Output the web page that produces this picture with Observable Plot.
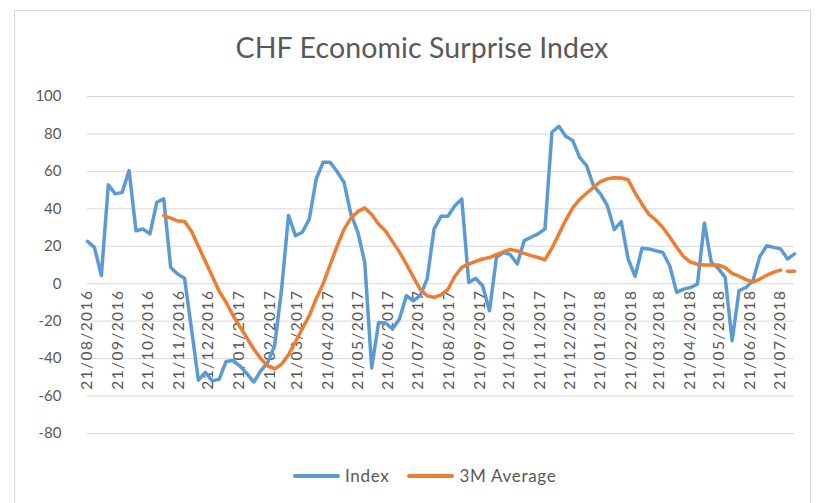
<!DOCTYPE html>
<html><head><meta charset="utf-8">
<script src="https://cdn.jsdelivr.net/npm/d3@7"></script>
<script src="https://cdn.jsdelivr.net/npm/@observablehq/plot@0.6"></script>
<style>
body{margin:0;background:#fff;font-family:Lato,"Open Sans",sans-serif;}
#wrap{position:relative;width:829px;height:503px;overflow:hidden;background:#fff;}
#frame{position:absolute;left:14px;top:10px;width:797px;height:520px;border:1px solid #d9d9d9;box-sizing:border-box;}
#title{position:absolute;top:30px;left:0;width:844px;text-align:center;font-size:28.5px;color:#595959;letter-spacing:0.1px;}
#chart{position:absolute;left:0;top:80px;}
#legend{position:absolute;top:465px;left:293px;display:flex;align-items:center;font-size:17px;letter-spacing:0.7px;color:#595959;white-space:nowrap;}
.sw{display:inline-block;width:47px;height:4px;border-radius:2px;margin-right:5px;}
</style></head>
<body>
<div id="wrap">
  <div id="frame"></div>
  <div id="title">CHF Economic Surprise Index</div>
  <div id="chart"></div>
  <div id="legend"></div>
</div>
<script>
// Weekly observations starting 21/08/2016
const startDate = "2016-08-21";
const indexValues = [22.6,19.4,4.3,52.8,48,48.8,60.4,28.3,29.2,26.6,43.5,45.3,8.7,5.2,2.9,-24,-51.5,-47.4,-51.9,-51,
 -41.5,-41,-44,-48,-52.5,-46.5,-42,-33,-3,36.4,25.7,27.5,34.6,56,64.9,64.9,59.9,54.2,37.3,27.5,
 11.4,-45,-20.7,-21,-24.2,-18.9,-6.4,-9.1,-6.4,2.5,29.2,36,36,41.7,45.3,0.7,2.9,-1.1,-14.4,14.1,
 16.7,15.5,10.5,23,24.8,26.6,29.2,80.9,84.1,78.8,76.5,67.5,63.1,52.4,48,41.7,28.9,33.2,13.2,3.9,
 18.9,18.6,17.6,16.7,9.6,-4.6,-2.9,-2,-0.2,32.4,11.4,8.2,3.4,-30.5,-3.7,-2,1.6,14.6,20.3,19.4,
 18.6,13.2,15.9];
const avgValues = [null,null,null,null,null,null,null,null,null,null,null,36.4,35,33.5,33.3,28,20,12,4,-4,
 -10,-17,-23,-29,-35,-40,-44,-45.5,-43,-38,-31,-24,-17,-8,0,10,20,29,35,38.5,
 40.5,37,31.8,28.2,22.5,17,10.5,3.6,-3,-6.4,-7.3,-6,-3,4,8.7,10.5,12,13.2,14,15.5,
 17,18.3,17.5,16.2,15,14,12.8,19,26.5,34,40.5,45,48.3,51.5,54.5,56,56.6,56.5,55.5,48.5,
 42.5,37,34,30,25,19.5,14.5,11.6,10.3,10,10,10,8.6,5.5,4,2.2,0.8,2.5,4.5,6.2,
 7.3,6.6,6.6];
const xTickLabels = ["21/08/2016","21/09/2016","21/10/2016","21/11/2016","21/12/2016","21/01/2017","21/02/2017","21/03/2017",
 "21/04/2017","21/05/2017","21/06/2017","21/07/2017","21/08/2017","21/09/2017","21/10/2017","21/11/2017","21/12/2017",
 "21/01/2018","21/02/2018","21/03/2018","21/04/2018","21/05/2018","21/06/2018","21/07/2018"];
const yTicks = [-80,-60,-40,-20,0,20,40,60,80,100];
const seriesNames = ["Index","3M Average"];
const seriesColors = ["#5B9BD5","#ED7D31"];

const start = new Date(startDate + "T00:00:00Z");
const dates = indexValues.map((_, i) => d3.utcDay.offset(start, 7 * i));
const rows = indexValues.map((v, i) => ({date: dates[i], index: v}));
const avgRows = avgValues.map((v, i) => ({date: dates[i], avg: v, seg: i <= 100 ? "a" : "b"})).filter(d => d.avg != null);
const parseLabel = d3.utcParse("%d/%m/%Y");
const tickRows = xTickLabels.map(s => ({date: parseLabel(s), label: s}));

const chart = Plot.plot({
  width: 829, height: 370,
  marginTop: 16, marginBottom: 17, marginLeft: 87, marginRight: 35,
  style: {fontFamily: "Lato, 'Open Sans', sans-serif", fontSize: "15px", color: "#595959", background: "transparent", overflow: "visible"},
  x: {type: "utc", domain: [dates[0], dates[dates.length - 1]], axis: null},
  y: {domain: [-80, 100], ticks: yTicks, tickSize: 0, tickPadding: 26, tickFormat: d => String(d), label: null},
  marks: [
    Plot.ruleY(yTicks, {stroke: "#d9d9d9", strokeWidth: 1}),
    Plot.text(tickRows, {x: "date", y: () => 0, text: "label", rotate: -90, textAnchor: "end", dy: 6, fill: "#595959", fontSize: 15.5, lineAnchor: "middle"}),
    Plot.line(rows, {x: "date", y: "index", stroke: seriesColors[0], strokeWidth: 3.5, strokeLinejoin: "round", strokeLinecap: "round"}),
    Plot.line(avgRows, {x: "date", y: "avg", z: "seg", stroke: seriesColors[1], strokeWidth: 3.5, strokeLinejoin: "round", strokeLinecap: "round"})
  ]
});
chart.querySelectorAll('g[aria-label="text"] text').forEach(t => t.style.letterSpacing = "1.4px");
document.getElementById("chart").appendChild(chart);

const legend = document.getElementById("legend");
seriesNames.forEach((name, i) => {
  const item = document.createElement("span");
  item.style.display = "inline-flex";
  item.style.alignItems = "center";
  item.style.marginRight = "18px";
  item.innerHTML = `<span class="sw" style="background:${seriesColors[i]}"></span><span>${name}</span>`;
  legend.appendChild(item);
});
</script>
</body></html>
